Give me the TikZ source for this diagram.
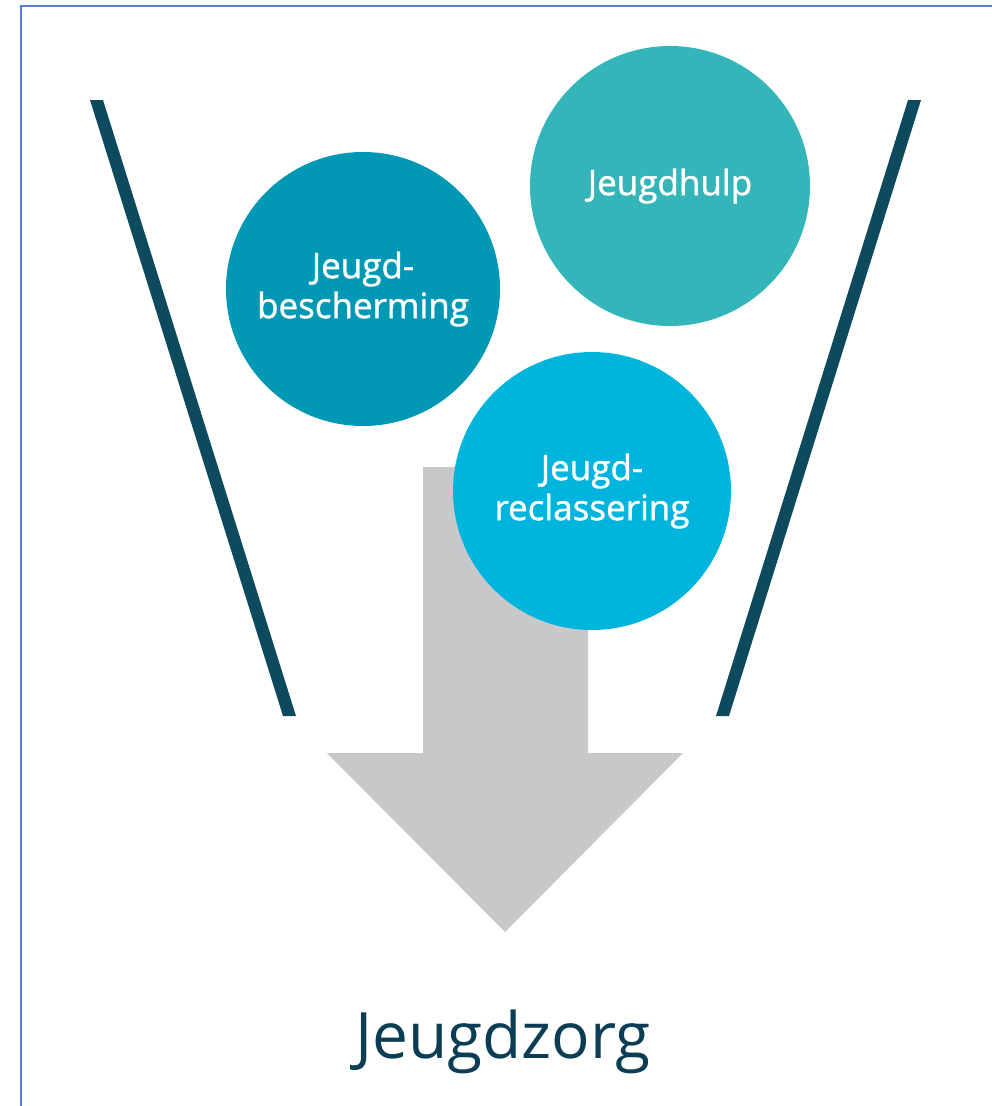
\documentclass[tikz,border=0pt]{standalone}
\usepackage{fontspec}
\setmainfont{Open Sans}
\newfontfamily\bubblefont[FakeBold=1.2]{Open Sans}
\definecolor{frameblue}{HTML}{5A7FD2}
\definecolor{funnelteal}{HTML}{0E4A5E}
\definecolor{arrowgray}{HTML}{C8C8CA}
\definecolor{beschermblue}{HTML}{0098B5}
\definecolor{hulpteal}{HTML}{33B5BA}
\definecolor{reclasblue}{HTML}{00B5DD}
\definecolor{zorgtext}{HTML}{0B3D55}

\begin{document}
\begin{tikzpicture}[x=1pt,y=-1pt,
  bubble/.style={circle,inner sep=0pt,text=white,align=center,
    font=\bubblefont\fontsize{35}{40}\selectfont},
  funnel/.style={fill=funnelteal}]
  \useasboundingbox (0,0) rectangle (992,1106);
  \draw[frameblue,line width=2.5pt] (21,1106) -- (21,6) -- (992,6);
  % funnel walls
  \fill[funnel] (90,100) -- (103,100) -- (296,716) -- (283,716) -- cycle;
  \fill[funnel] (908,100) -- (921,100) -- (729,716) -- (716,716) -- cycle;
  % big arrow
  \fill[arrowgray] (423,467) -- (588,467) -- (588,753) -- (683,753)
    -- (505,932) -- (327,753) -- (423,753) -- cycle;
  \node[bubble,fill=beschermblue,minimum size=274pt] (bescherming)
    at (363,289) {Jeugd-\\bescherming};
  \node[bubble,fill=hulpteal,minimum size=280pt] (hulp)
    at (670,186) {Jeugdhulp};
  \node[bubble,fill=reclasblue,minimum size=278pt] (reclassering)
    at (592,491) {Jeugd-\\reclassering};
  \node[anchor=base,text=zorgtext,font=\fontsize{64}{70}\selectfont]
    (zorg) at (503,1058) {Jeugdzorg};
\end{tikzpicture}
\end{document}
